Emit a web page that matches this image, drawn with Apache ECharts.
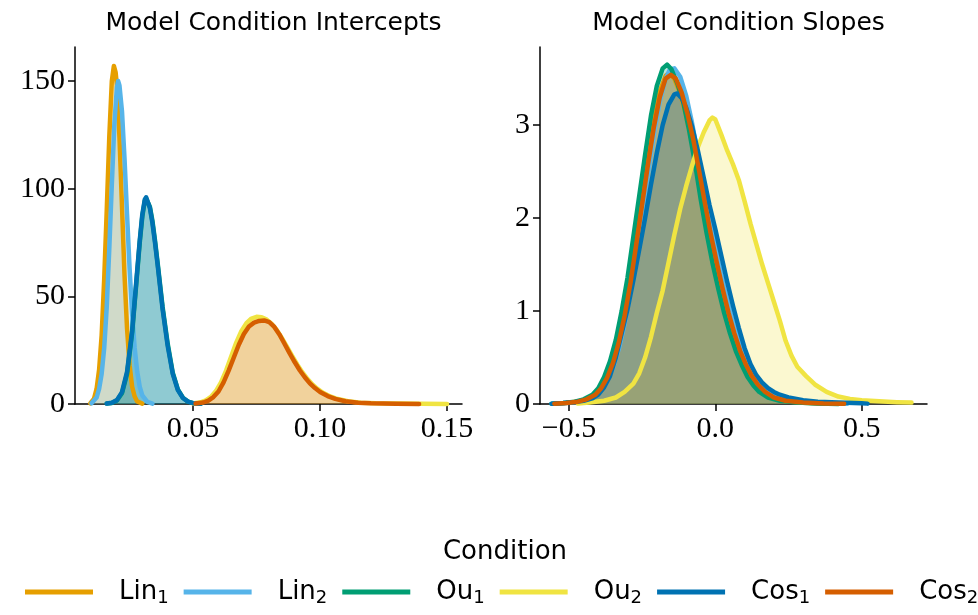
<!DOCTYPE html>
<html>
<head>
<meta charset="utf-8">
<script src="https://cdn.jsdelivr.net/npm/echarts@6/dist/echarts.min.js"></script>
<style>
html,body{margin:0;padding:0;background:#fff;}
#chart{width:978px;height:615px;}
</style>
</head>
<body>
<div id="chart"></div>
<script>
// ---------- data ----------
const conditionNames = ['Lin1','Lin2','Ou1','Ou2','Cos1','Cos2'];
const conditionColors = ['#E69F00','#56B4E9','#009E73','#F0E442','#0072B2','#D55E00'];
const panelTitles = ['Model Condition Intercepts','Model Condition Slopes'];
const legendTitle = 'Condition';
const interceptTicksX = [0.05,0.10,0.15];
const interceptTicksY = [0,50,100,150];
const slopeTicksX = [-0.5,0.0,0.5];
const slopeTicksY = [0,1,2,3];

// Intercepts KDE curves [x, density]
const interceptLin1 = [[0.0095,0.3],[0.011,2.5],[0.012,7],[0.013,16],[0.014,32],[0.015,58],[0.016,90],[0.017,124],[0.018,150],[0.0188,157],[0.0195,154],[0.020,148],[0.021,124],[0.022,92],[0.023,60],[0.024,35],[0.025,18],[0.026,8],[0.027,3.5],[0.028,1.2],[0.030,0.2]];
const interceptLin2 = [[0.010,0.3],[0.012,3],[0.013,7],[0.014,14],[0.015,26],[0.016,45],[0.017,72],[0.018,102],[0.019,130],[0.020,147],[0.0205,150],[0.021,148],[0.022,136],[0.023,114],[0.024,88],[0.025,63],[0.026,42],[0.027,26],[0.028,15],[0.029,8],[0.030,4],[0.032,1],[0.034,0.2]];
const interceptOu1 = [[0.016,0.2],[0.018,0.5],[0.020,1.6],[0.022,5],[0.024,14],[0.026,33],[0.028,61],[0.029,75],[0.030,87],[0.031,94.5],[0.0315,95.5],[0.032,95.5],[0.033,91.5],[0.034,85],[0.035,76],[0.036,66],[0.038,45],[0.040,28],[0.042,14.5],[0.044,6.8],[0.046,2.9],[0.048,1.1],[0.050,0.4],[0.053,0.1]];
const interceptOu2 = [[0.050,0.2],[0.053,0.8],[0.055,1.7],[0.057,3.3],[0.059,6],[0.061,10],[0.063,15.5],[0.065,22],[0.067,28.5],[0.069,33.8],[0.071,37.5],[0.073,39.7],[0.075,40.5],[0.077,40.3],[0.079,39.2],[0.081,37.2],[0.083,34.3],[0.085,30.6],[0.087,26.5],[0.089,22.4],[0.091,18.4],[0.093,14.8],[0.095,11.7],[0.097,9.1],[0.099,7],[0.101,5.3],[0.104,3.5],[0.107,2.3],[0.111,1.3],[0.116,0.6],[0.122,0.3],[0.130,0.2],[0.140,0.12],[0.150,0.05]];
const interceptCos1 = [[0.016,0.2],[0.018,0.6],[0.020,1.8],[0.022,5.5],[0.024,15],[0.026,34],[0.028,62],[0.029,76],[0.030,88],[0.031,95],[0.0315,96],[0.032,95.5],[0.033,91],[0.034,84],[0.035,75],[0.036,65],[0.038,44],[0.040,27],[0.042,14],[0.044,6.5],[0.046,2.8],[0.048,1.1],[0.050,0.4],[0.053,0.1]];
const interceptCos2 = [[0.051,0.2],[0.054,0.7],[0.056,1.6],[0.058,3.2],[0.060,5.8],[0.062,10],[0.064,15.5],[0.066,21.5],[0.068,27.5],[0.070,32.5],[0.072,36],[0.074,37.8],[0.076,38.6],[0.078,38.8],[0.080,38],[0.082,35.8],[0.084,32.3],[0.086,28],[0.088,23.6],[0.090,19.5],[0.092,15.7],[0.094,12.4],[0.096,9.6],[0.098,7.4],[0.100,5.6],[0.103,3.7],[0.106,2.4],[0.110,1.3],[0.115,0.6],[0.120,0.3],[0.130,0.15],[0.139,0.05]];

// Slopes KDE curves [x, density]
const slopeLin1 = [[-0.55,0.003],[-0.51,0.01],[-0.47,0.026],[-0.44,0.052],[-0.41,0.105],[-0.39,0.18],[-0.37,0.3],[-0.35,0.47],[-0.33,0.7],[-0.31,1.0],[-0.29,1.36],[-0.27,1.78],[-0.25,2.22],[-0.23,2.65],[-0.21,3.05],[-0.19,3.36],[-0.17,3.53],[-0.158,3.56],[-0.14,3.5],[-0.12,3.34],[-0.10,3.1],[-0.08,2.8],[-0.06,2.46],[-0.04,2.1],[-0.02,1.77],[0.0,1.46],[0.02,1.18],[0.04,0.93],[0.06,0.72],[0.08,0.54],[0.10,0.4],[0.12,0.28],[0.14,0.19],[0.165,0.12],[0.2,0.06],[0.24,0.03],[0.3,0.013],[0.37,0.005],[0.44,0.002]];
const slopeLin2 = [[-0.555,0.003],[-0.51,0.01],[-0.47,0.022],[-0.44,0.045],[-0.41,0.09],[-0.39,0.15],[-0.37,0.25],[-0.35,0.39],[-0.33,0.59],[-0.31,0.86],[-0.29,1.2],[-0.27,1.6],[-0.25,2.04],[-0.23,2.48],[-0.21,2.9],[-0.19,3.25],[-0.17,3.5],[-0.155,3.6],[-0.14,3.61],[-0.12,3.52],[-0.10,3.32],[-0.08,3.03],[-0.06,2.69],[-0.04,2.33],[-0.02,2.0],[0.0,1.69],[0.02,1.39],[0.04,1.12],[0.06,0.88],[0.08,0.67],[0.10,0.5],[0.12,0.36],[0.14,0.25],[0.165,0.16],[0.2,0.08],[0.24,0.04],[0.3,0.017],[0.37,0.007],[0.45,0.002]];
const slopeOu1 = [[-0.56,0.003],[-0.52,0.01],[-0.48,0.025],[-0.45,0.05],[-0.42,0.1],[-0.40,0.17],[-0.38,0.29],[-0.36,0.46],[-0.34,0.69],[-0.32,1.0],[-0.30,1.36],[-0.28,1.80],[-0.26,2.24],[-0.24,2.68],[-0.22,3.1],[-0.20,3.42],[-0.18,3.61],[-0.165,3.65],[-0.15,3.6],[-0.13,3.45],[-0.11,3.25],[-0.09,2.95],[-0.07,2.6],[-0.05,2.2],[-0.03,1.84],[-0.01,1.52],[0.01,1.24],[0.03,0.98],[0.05,0.76],[0.07,0.57],[0.09,0.42],[0.11,0.29],[0.13,0.2],[0.15,0.13],[0.18,0.07],[0.22,0.035],[0.28,0.015],[0.35,0.005],[0.42,0.001]];
const slopeOu2 = [[-0.47,0.005],[-0.43,0.015],[-0.38,0.035],[-0.34,0.07],[-0.31,0.13],[-0.28,0.22],[-0.26,0.33],[-0.24,0.5],[-0.22,0.72],[-0.20,0.98],[-0.18,1.22],[-0.16,1.52],[-0.14,1.82],[-0.12,2.1],[-0.10,2.34],[-0.08,2.56],[-0.06,2.76],[-0.04,2.92],[-0.02,3.05],[-0.01,3.08],[0.0,3.06],[0.02,2.9],[0.04,2.73],[0.06,2.58],[0.08,2.41],[0.10,2.18],[0.12,1.94],[0.14,1.72],[0.16,1.5],[0.18,1.3],[0.20,1.1],[0.22,0.9],[0.24,0.68],[0.26,0.52],[0.28,0.4],[0.31,0.3],[0.34,0.21],[0.38,0.13],[0.42,0.08],[0.46,0.055],[0.50,0.04],[0.56,0.03],[0.62,0.02],[0.67,0.015]];
const slopeCos1 = [[-0.56,0.003],[-0.52,0.01],[-0.48,0.02],[-0.45,0.035],[-0.42,0.06],[-0.40,0.1],[-0.38,0.18],[-0.36,0.3],[-0.34,0.5],[-0.32,0.76],[-0.30,1.02],[-0.28,1.33],[-0.26,1.66],[-0.24,2.0],[-0.22,2.36],[-0.20,2.7],[-0.18,3.0],[-0.16,3.22],[-0.14,3.33],[-0.13,3.34],[-0.115,3.29],[-0.10,3.19],[-0.08,2.99],[-0.06,2.73],[-0.04,2.44],[-0.02,2.14],[0.0,1.88],[0.02,1.6],[0.04,1.32],[0.06,1.06],[0.08,0.82],[0.10,0.6],[0.12,0.43],[0.14,0.31],[0.16,0.23],[0.18,0.17],[0.20,0.13],[0.22,0.1],[0.25,0.07],[0.30,0.04],[0.35,0.025],[0.42,0.015],[0.50,0.008],[0.52,0.004]];
const slopeCos2 = [[-0.55,0.003],[-0.51,0.01],[-0.47,0.025],[-0.44,0.05],[-0.41,0.1],[-0.39,0.17],[-0.37,0.28],[-0.35,0.44],[-0.33,0.66],[-0.31,0.95],[-0.29,1.3],[-0.27,1.72],[-0.25,2.15],[-0.23,2.58],[-0.21,2.98],[-0.19,3.3],[-0.17,3.5],[-0.152,3.54],[-0.135,3.5],[-0.115,3.35],[-0.095,3.12],[-0.075,2.84],[-0.055,2.5],[-0.035,2.15],[-0.015,1.82],[0.005,1.52],[0.025,1.24],[0.045,0.98],[0.065,0.76],[0.085,0.57],[0.105,0.42],[0.125,0.3],[0.145,0.21],[0.17,0.13],[0.2,0.07],[0.24,0.035],[0.3,0.015],[0.37,0.006],[0.44,0.002]];

const interceptData = [interceptLin1, interceptLin2, interceptOu1, interceptOu2, interceptCos1, interceptCos2];
const slopeData = [slopeLin1, slopeLin2, slopeOu1, slopeOu2, slopeCos1, slopeCos2];

// ---------- chart ----------
const chart = echarts.init(document.getElementById('chart'), null, {renderer: 'canvas'});
const serifFont = '"Liberation Serif", "DejaVu Serif", serif';
const sansFont = '"DejaVu Sans", sans-serif';

const leftGrid = {left: 75, top: 47, width: 387, height: 357};
const rightGrid = {left: 540, top: 47, width: 387, height: 357};

function fmtNum(v, d) {
  const s = Math.abs(v).toFixed(d);
  return (v < -1e-9 ? '\u2212' : '') + s;
}

function makeXAxis(gridIndex, min, max, ticks, digits) {
  return {
    type: 'value', gridIndex, min, max,
    splitLine: {show: false},
    axisLine: {show: true, onZero: false, lineStyle: {color: '#000', width: 1.5}},
    axisTick: {show: true, inside: false, length: 7, lineStyle: {color: '#000', width: 1.5}, customValues: ticks},
    axisLabel: {show: true, customValues: ticks, margin: 10, color: '#000', fontFamily: serifFont, fontSize: 30,
      formatter: v => fmtNum(v, digits)}
  };
}
function makeYAxis(gridIndex, min, max, ticks) {
  return {
    type: 'value', gridIndex, min, max,
    splitLine: {show: false},
    axisLine: {show: true, onZero: false, lineStyle: {color: '#000', width: 1.5}},
    axisTick: {show: true, inside: false, length: 7, lineStyle: {color: '#000', width: 1.5}, customValues: ticks},
    axisLabel: {show: true, customValues: ticks, margin: 10, color: '#000', fontFamily: serifFont, fontSize: 30,
      formatter: v => String(v)}
  };
}

const series = [];
conditionNames.forEach((name, i) => {
  [interceptData[i], slopeData[i]].forEach((data, g) => {
    series.push({
      type: 'line', name, xAxisIndex: g, yAxisIndex: g, data,
      smooth: false, symbol: 'none', showSymbol: false, clip: false,
      sampling: null, progressive: 0,
      color: conditionColors[i],
      lineStyle: {width: 4.5, color: conditionColors[i], cap: 'round', join: 'round'},
      areaStyle: {color: conditionColors[i], opacity: 0.25, origin: 'start'},
      emphasis: {disabled: true},
      animation: false
    });
  });
});

const subMap = {'1': '1', '2': '2'};
chart.setOption({
  animation: false,
  backgroundColor: '#fff',
  title: [
    {text: panelTitles[0], left: leftGrid.left + leftGrid.width / 2, top: 6, textAlign: 'center',
      textStyle: {fontFamily: sansFont, fontSize: 25, fontWeight: 'normal', color: '#000'}},
    {text: panelTitles[1], left: rightGrid.left + rightGrid.width / 2, top: 6, textAlign: 'center',
      textStyle: {fontFamily: sansFont, fontSize: 25, fontWeight: 'normal', color: '#000'}},
    {text: legendTitle, left: 500, top: 534, textAlign: 'center',
      textStyle: {fontFamily: sansFont, fontSize: 26, fontWeight: 'normal', color: '#000'}}
  ],
  grid: [leftGrid, rightGrid],
  xAxis: [makeXAxis(0, 0.0035, 0.1559, interceptTicksX, 2), makeXAxis(1, -0.599, 0.723, slopeTicksX, 1)],
  yAxis: [makeYAxis(0, 0, 165.8, interceptTicksY), makeYAxis(1, 0, 3.84, slopeTicksY)],
  legend: {
    data: conditionNames,
    left: 20, top: 574, width: 958, padding: [5, 0, 5, 5],
    icon: 'rect', itemWidth: 68, itemHeight: 5, itemGap: 15,
    selectedMode: false,
    textStyle: {fontFamily: sansFont, fontSize: 26, color: '#000', padding: [0, 0, 0, 21],
      rich: {
        b: {fontFamily: sansFont, fontSize: 26, color: '#000'},
        s: {fontFamily: sansFont, fontSize: 18, color: '#000', padding: [12, 0, 0, 0]}
      }},
    formatter: n => '{b|' + n.slice(0, -1) + '}{s|' + subMap[n.slice(-1)] + '}'
  },
  series
});
</script>
</body>
</html>
